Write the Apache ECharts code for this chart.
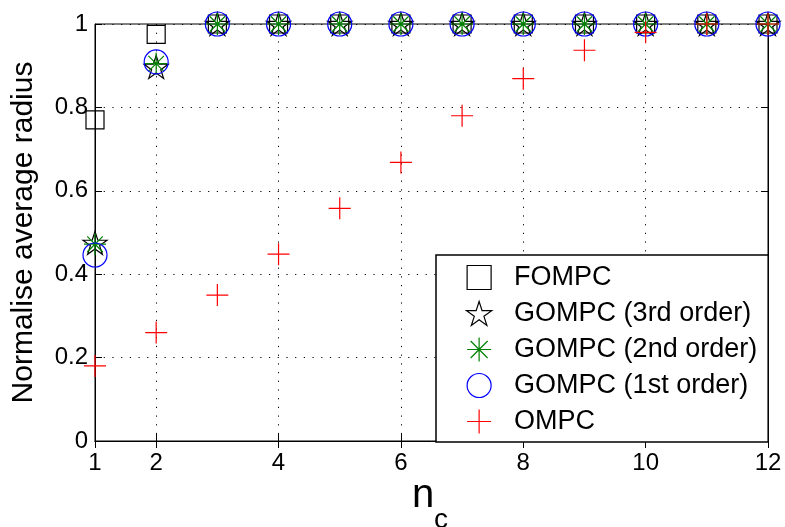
<!DOCTYPE html>
<html>
<head>
<meta charset="utf-8">
<script src="https://cdn.jsdelivr.net/npm/echarts@6/dist/echarts.min.js"></script>
<style>
  html, body { margin: 0; padding: 0; background: #fff; }
  #chart { width: 785px; height: 527px; }
</style>
</head>
<body>
<div id="chart"></div>
<script>
// Number of controllers n_c
const nc = [1, 2, 3, 4, 5, 6, 7, 8, 9, 10, 11, 12];
// Normalised average radius for each controller scheme
const fompc  = [0.77, 0.975, 1, 1, 1, 1, 1, 1, 1, 1, 1, 1];
const gompc3 = [0.475, 0.897, 1, 1, 1, 1, 1, 1, 1, 1, 1, 1];
const gompc2 = [0.472, 0.905, 1, 1, 1, 1, 1, 1, 1, 1, 1, 1];
const gompc1 = [0.446, 0.909, 1, 1, 1, 1, 1, 1, 1, 1, 1, 1];
const ompc   = [0.18, 0.26, 0.35, 0.448, 0.558, 0.668, 0.78, 0.869, 0.937, 0.98, 1, 1];

const seriesNames = ['FOMPC', 'GOMPC (3rd order)', 'GOMPC (2nd order)', 'GOMPC (1st order)', 'OMPC'];
const xTicks = [1, 2, 4, 6, 8, 10, 12];
const xGrid = [2, 4, 6, 8, 10];

const FONT = '"Liberation Sans", Arial, Helvetica, sans-serif';

// Marker outlines (stroked, unfilled)
const SQUARE = 'path://M0,0L10,0L10,10L0,10Z';
const STAR = 'path://M100,0L122.45,69.1L195.1,69.1L136.3,111.8L158.8,180.9L100,138.2L41.2,180.9L63.7,111.8L4.9,69.1L77.55,69.1Z';
const ASTERISK = 'path://M0,10L20,10M10,0L10,20M2.93,2.93L17.07,17.07M17.07,2.93L2.93,17.07';
const PLUS = 'path://M0,10L20,10M10,0L10,20';

function pairs(ys) { return nc.map((x, i) => [x, ys[i]]); }

function scatter(name, ys, symbol, size, color, z) {
  return {
    name: name,
    type: 'scatter',
    data: pairs(ys),
    symbol: symbol,
    symbolSize: size,
    symbolKeepAspect: true,
    clip: false,
    z: z,
    itemStyle: { color: 'none', borderColor: color, borderWidth: 1.2, opacity: 1 },
    emphasis: { disabled: true }
  };
}

const chart = echarts.init(document.getElementById('chart'), null, { renderer: 'canvas' });

const dotted = { color: '#000', width: 1, type: [1.2, 7.5] };
const tickStyle = { show: true, inside: true, length: 7, lineStyle: { color: '#000' } };
const axisLineStyle = { show: true, lineStyle: { color: '#000', width: 1 } };

chart.setOption({
  animation: false,
  backgroundColor: '#fff',
  grid: {
    left: 95, right: 17, top: 24, bottom: 86,
    show: true, borderColor: '#000', borderWidth: 1, backgroundColor: 'transparent'
  },
  xAxis: [{
    type: 'value',
    min: 1, max: 12,
    axisLine: axisLineStyle,
    axisTick: Object.assign({ customValues: xTicks }, tickStyle),
    axisLabel: {
      customValues: xTicks, color: '#000', fontSize: 24, fontFamily: FONT, margin: 10
    },
    splitLine: { show: true, customValues: xGrid, lineStyle: dotted }
  }, {
    type: 'value',
    position: 'top',
    min: 1, max: 12,
    axisLine: axisLineStyle,
    axisTick: Object.assign({ customValues: xTicks }, tickStyle),
    axisLabel: { show: false },
    splitLine: { show: false }
  }],
  yAxis: [{
    type: 'value',
    min: 0, max: 1, interval: 0.2,
    name: 'Normalise average radius',
    nameLocation: 'middle',
    nameGap: 56,
    nameTextStyle: { color: '#000', fontSize: 30, fontFamily: FONT },
    axisLine: axisLineStyle,
    axisTick: tickStyle,
    axisLabel: {
      color: '#000', fontSize: 24, fontFamily: FONT, margin: 7,
      formatter: v => String(Math.round(v * 10) / 10)
    },
    splitLine: { show: true, lineStyle: dotted }
  }, {
    type: 'value',
    position: 'right',
    min: 0, max: 1, interval: 0.2,
    axisLine: axisLineStyle,
    axisTick: tickStyle,
    axisLabel: { show: false },
    splitLine: { show: false }
  }],
  legend: {
    orient: 'vertical',
    left: 436, top: 255,
    data: seriesNames,
    backgroundColor: '#fff',
    borderColor: '#000', borderWidth: 1.5,
    padding: [8, 11, 6, 28],
    itemWidth: 60, itemHeight: 24, itemGap: 7,
    selectedMode: false,
    symbolKeepAspect: true,
    itemStyle: { borderWidth: 1.2 },
    textStyle: { color: '#000', fontSize: 27, fontFamily: FONT },
    z: 10
  },
  series: [
    scatter(seriesNames[0], fompc, SQUARE, 18, '#000', 2),
    scatter(seriesNames[1], gompc3, STAR, 24, '#000', 3),
    scatter(seriesNames[2], gompc2, ASTERISK, 22, '#008000', 4),
    scatter(seriesNames[3], gompc1, 'circle', 24, '#0000ff', 5),
    scatter(seriesNames[4], ompc, PLUS, 22, '#ff0000', 6)
  ],
  graphic: [
    { type: 'text', left: 412, top: 476, style: { text: 'n', fontSize: 40, fontFamily: FONT, fill: '#000' } },
    { type: 'text', left: 434, top: 506, style: { text: 'c', fontSize: 28, fontFamily: FONT, fill: '#000' } }
  ]
});
</script>
</body>
</html>
